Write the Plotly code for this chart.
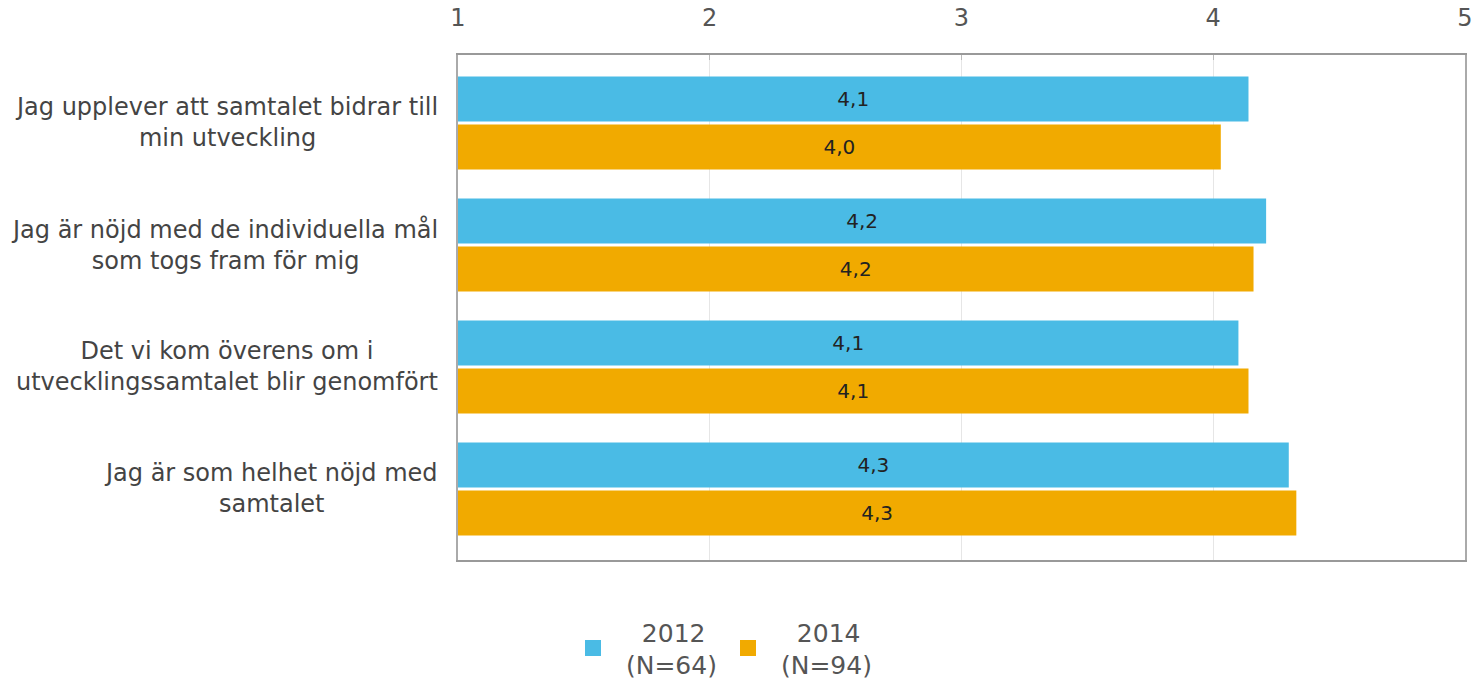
import plotly.graph_objects as go

# Survey statements (top to bottom) and mean scores on a 1-5 scale
statements = [
    "Jag upplever att samtalet bidrar till<br>min utveckling",
    "Jag är nöjd med de individuella mål<br>som togs fram för mig",
    "Det vi kom överens om i<br>utvecklingssamtalet blir genomfört",
    "Jag är som helhet nöjd med<br>samtalet",
]
scores_2012 = [4.14, 4.21, 4.10, 4.30]
scores_2014 = [4.03, 4.16, 4.14, 4.33]
years = ["2012", "2014"]
respondents = [64, 94]
x_ticks = [1, 2, 3, 4, 5]

FONT = "DejaVu Sans, Verdana, sans-serif"
BLUE = "#4abbe5"
ORANGE = "#f1aa00"
COLORS = [BLUE, ORANGE]

cats = list(range(len(statements)))

fig = go.Figure()
for vals, color in [(scores_2012, BLUE), (scores_2014, ORANGE)]:
    fig.add_trace(go.Bar(
        y=cats, x=[v - 1 for v in vals], base=1, orientation="h",
        marker=dict(color=color, line=dict(width=0)),
        text=vals, texttemplate="%{text:.1f}", textposition="inside",
        insidetextanchor="middle", cliponaxis=False,
        textfont=dict(family=FONT, size=20, color="#222222"),
        hoverinfo="skip", showlegend=False,
    ))

# Legend entries with larger square swatches; year centred over N
for year, n, color in zip(years, respondents, COLORS):
    label = ("\u00a0\u00a0\u00a0\u2009" + year + "<br>"
             + "\u00a0\u2009(N=" + str(n) + ")")
    fig.add_trace(go.Scatter(
        x=[None], y=[None], mode="markers", name=label,
        marker=dict(symbol="square", size=19, color=color),
        hoverinfo="skip",
    ))

# Centered multi-line statement labels to the left of the plot
for i, s in enumerate(statements):
    fig.add_annotation(
        x=0, xref="paper", y=i, yref="y", xanchor="right", xshift=-18,
        text=s, showarrow=False, align="center",
        font=dict(family=FONT, size=24, color="#444444"),
    )

fig.update_layout(
    width=1475, height=686,
    margin=dict(l=458, r=10, t=55, b=126, autoexpand=False),
    paper_bgcolor="white", plot_bgcolor="white",
    barmode="group", bargap=0.213, bargroupgap=0.06,
    separators=", ",
    showlegend=True,
    legend=dict(
        orientation="h", xref="container", yref="container",
        x=573 / 1475, xanchor="left", y=1 - 648 / 686, yanchor="middle",
        font=dict(family=FONT, size=25, color="#555555"),
        entrywidth=110, traceorder="normal",
    ),
    xaxis=dict(
        side="top", range=[1, 5], tickvals=x_ticks,
        showgrid=True, gridcolor="#e6e6e6", gridwidth=1,
        showline=True, linecolor="#999999", linewidth=2, mirror=True,
        ticks="inside", ticklen=5, tickcolor="#bbbbbb",
        ticklabelstandoff=17, automargin=False,
        ticklabeloverflow="allow",
        tickfont=dict(family=FONT, size=24, color="#555555"),
        zeroline=False, fixedrange=True,
    ),
    yaxis=dict(
        range=[3.582, -0.557], showticklabels=False, showgrid=False,
        showline=True, linecolor="#aaaaaa", linewidth=2, mirror=True,
        zeroline=False, fixedrange=True, automargin=False,
    ),
)

fig.write_html("out.html")
